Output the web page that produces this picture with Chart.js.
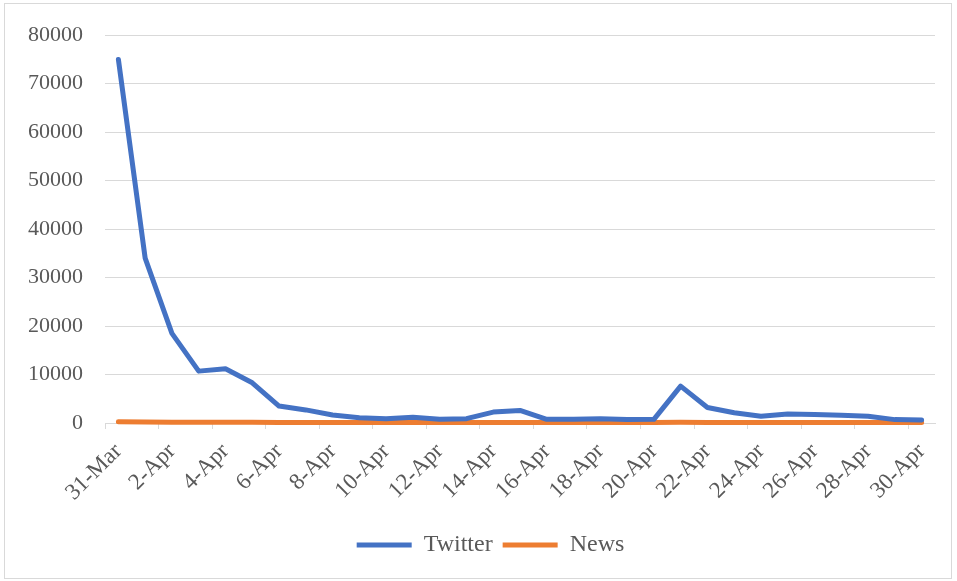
<!DOCTYPE html>
<html>
<head>
<meta charset="utf-8">
<script src="https://cdn.jsdelivr.net/npm/chart.js@4"></script>
<style>
  body { margin: 0; background: #fff; }
  #wrap { position: relative; width: 957px; height: 581px; }
  #frame { position: absolute; left: 4px; top: 3px; width: 946px; height: 574px; border: 1px solid #d9d9d9; pointer-events: none; }
</style>
</head>
<body>
<div id="wrap">
  <canvas id="grafico" width="957" height="581"></canvas>
  <div id="frame"></div>
</div>
<script>
// fechas (una por dia)
fechas = ['31-Mar', '1-Apr', '2-Apr', '3-Apr', '4-Apr', '5-Apr', '6-Apr', '7-Apr', '8-Apr', '9-Apr',
          '10-Apr', '11-Apr', '12-Apr', '13-Apr', '14-Apr', '15-Apr', '16-Apr', '17-Apr', '18-Apr', '19-Apr',
          '20-Apr', '21-Apr', '22-Apr', '23-Apr', '24-Apr', '25-Apr', '26-Apr', '27-Apr', '28-Apr', '29-Apr', '30-Apr'];

twitter = [75000, 34000, 18500, 10700, 11200, 8300, 3500, 2700, 1650, 1100,
           900, 1200, 750, 900, 2250, 2600, 750, 750, 900, 700,
           750, 7600, 3200, 2100, 1400, 1850, 1750, 1600, 1400, 700, 600];

news = [250, 220, 180, 150, 140, 130, 120, 120, 110, 110,
        100, 110, 100, 100, 110, 120, 100, 100, 100, 100,
        100, 130, 120, 110, 100, 110, 100, 100, 100, 100, 100];

yMin = 0;
yMax = 80000;
yPaso = 10000;

colorTexto = '#595959';
colorRejilla = '#d9d9d9';
fuente = 'Liberation Serif, Times New Roman, serif';

// corre la leyenda un poco a la derecha, como en el original
moverLeyenda = {
  id: 'moverLeyenda',
  afterLayout: function(chart) {
    chart.legend.left += 23;
    chart.legend.right += 23;
  }
};

const ctx = document.getElementById('grafico');

new Chart(ctx, {
  type: 'line',
  data: {
    labels: fechas,
    datasets: [
      {
        label: 'Twitter',
        data: twitter,
        borderColor: '#4472C4',
        backgroundColor: '#4472C4',
        borderWidth: 5,
        borderCapStyle: 'round',
        borderJoinStyle: 'round',
        pointRadius: 0,
        tension: 0,
        clip: false
      },
      {
        label: 'News',
        data: news,
        borderColor: '#ED7D31',
        backgroundColor: '#ED7D31',
        borderWidth: 5,
        borderCapStyle: 'round',
        borderJoinStyle: 'round',
        pointRadius: 0,
        tension: 0,
        clip: false
      }
    ]
  },
  plugins: [moverLeyenda],
  options: {
    responsive: false,
    animation: false,
    layout: { padding: { left: 0, right: 22, top: 34, bottom: 14 } },
    plugins: {
      tooltip: { enabled: false },
      legend: {
        position: 'bottom',
        labels: {
          usePointStyle: true,
          pointStyle: 'line',
          pointStyleWidth: 55,
          color: colorTexto,
          padding: 10,
          font: { family: fuente, size: 24 }
        }
      }
    },
    scales: {
      x: {
        offset: true,
        grid: {
          offset: true,
          drawOnChartArea: false,
          drawTicks: true,
          tickLength: 6,
          color: function(c) { return c.index % 2 === 0 ? colorRejilla : 'rgba(0,0,0,0)'; }
        },
        border: { color: colorRejilla, width: 1 },
        ticks: {
          autoSkip: false,
          maxRotation: 45,
          minRotation: 45,
          padding: 9,
          color: colorTexto,
          font: { family: fuente, size: 23 },
          callback: function(v, i) { return i % 2 === 0 ? this.getLabelForValue(v) : ''; }
        },
        afterFit: function(s) { s.height = 100; }
      },
      y: {
        min: yMin,
        max: yMax,
        grid: { color: colorRejilla, lineWidth: 1, drawTicks: false },
        border: { display: false },
        ticks: {
          stepSize: yPaso,
          padding: 22,
          color: colorTexto,
          font: { family: fuente, size: 22 },
          callback: function(v) { return String(v); }
        },
        afterFit: function(s) { s.width = 105; }
      }
    }
  }
});
</script>
</body>
</html>
